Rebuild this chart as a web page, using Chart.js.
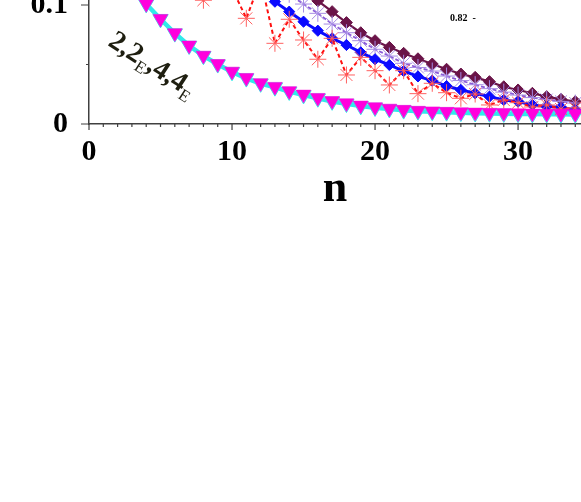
<!DOCTYPE html>
<html>
<head>
<meta charset="utf-8">
<script src="https://cdn.jsdelivr.net/npm/chart.js@4.4.0/dist/chart.umd.min.js"></script>
<style>
html, body { margin: 0; padding: 0; background: #fff; }
#wrap { width: 581px; height: 502px; position: relative; }
</style>
</head>
<body>
<div id="wrap"><canvas id="decayChart"></canvas></div>
<script>
const nValues = [1, 2, 3, 4, 5, 6, 7, 8, 9, 10, 11, 12, 13, 14, 15, 16, 17,
    18, 19, 20, 21, 22, 23, 24, 25, 26, 27, 28, 29, 30, 31, 32, 33, 34];

// 2,2E (cyan line) and 4,4E (magenta triangles)
const series22E = [0.150, 0.131, 0.115, 0.1008, 0.0882, 0.0762, 0.0658, 0.0572, 0.0502, 0.0437,
    0.0384, 0.0340, 0.0308, 0.0272, 0.0243, 0.0215, 0.0189, 0.0170, 0.0151, 0.0137,
    0.0125, 0.0115, 0.0107, 0.0102, 0.0098, 0.0094, 0.0091, 0.0089, 0.0087, 0.0085,
    0.0083, 0.0082, 0.0081, 0.0080];
const series44E = [0.150, 0.131, 0.115, 0.101, 0.0885, 0.0765, 0.0661, 0.0576, 0.0506, 0.0442,
    0.0389, 0.0345, 0.0314, 0.0278, 0.0249, 0.0221, 0.0195, 0.0176, 0.0157, 0.0143,
    0.0131, 0.0121, 0.0113, 0.0108, 0.0104, 0.0101, 0.0098, 0.0096, 0.0094, 0.0092,
    0.0090, 0.0089, 0.0088, 0.0087];
const seriesRed = [0.200, 0.170, 0.190, 0.150, 0.160, 0.125, 0.140, 0.104, 0.125, 0.114,
    0.0888, 0.121, 0.0678, 0.088, 0.0706, 0.0544, 0.072, 0.0412, 0.056, 0.0448,
    0.0328, 0.0448, 0.0255, 0.0342, 0.0263, 0.0216, 0.0252, 0.016, 0.0202, 0.0179,
    0.0143, 0.016, 0.0126, 0.0135];
const seriesBlue = [0.30, 0.27, 0.245, 0.222, 0.202, 0.184, 0.168, 0.154, 0.142, 0.131,
    0.121, 0.111, 0.1028, 0.0944, 0.086, 0.0784, 0.072, 0.0664, 0.0602, 0.0544,
    0.0496, 0.0445, 0.040, 0.0364, 0.0319, 0.0286, 0.0258, 0.023, 0.0202, 0.0188,
    0.016, 0.0146, 0.014, 0.0118];
const seriesPurple = [0.34, 0.31, 0.28, 0.255, 0.232, 0.212, 0.194, 0.178, 0.163, 0.150,
    0.138, 0.127, 0.118, 0.109, 0.1008, 0.093, 0.084, 0.0767, 0.070, 0.0628,
    0.0571, 0.051, 0.0475, 0.0445, 0.0403, 0.0365, 0.033, 0.0297, 0.0268, 0.0243,
    0.0222, 0.0205, 0.019, 0.0176];
const seriesMaroon = [0.38, 0.345, 0.315, 0.288, 0.263, 0.241, 0.221, 0.203, 0.187, 0.172,
    0.158, 0.145, 0.134, 0.123, 0.113, 0.1035, 0.0944, 0.0852, 0.0767, 0.070,
    0.0644, 0.0594, 0.0548, 0.0504, 0.046, 0.042, 0.0392, 0.0356, 0.0313, 0.0286,
    0.0258, 0.023, 0.0207, 0.0188];

const xTickLabels = ['0', '10', '20', '30'];
const yTickLabels = ['0', '0.1'];

const serif = "'Liberation Serif', 'Times New Roman', serif";
const axisColor = '#404040';

// minor / major tick marks plus the two text notes
const axisMarks = {
    id: 'axisMarks',
    afterDraw(chart) {
        const { ctx, chartArea, scales: { x, y } } = chart;
        ctx.save();
        ctx.strokeStyle = axisColor;
        ctx.lineWidth = 1.2;
        ctx.beginPath();
        x.ticks.forEach(t => {
            const px = x.getPixelForValue(t.value);
            const len = t.value % 10 === 0 ? 6 : 3;
            ctx.moveTo(px, chartArea.bottom);
            ctx.lineTo(px, chartArea.bottom + len);
        });
        y.ticks.forEach(t => {
            const py = y.getPixelForValue(t.value);
            const len = Math.abs(t.value - 0.05) < 1e-9 ? 3 : 8;
            ctx.moveTo(chartArea.left - len, py);
            ctx.lineTo(chartArea.left, py);
        });
        ctx.stroke();

        // small note top right
        ctx.fillStyle = '#000';
        ctx.font = 'bold 10px ' + serif;
        ctx.textBaseline = 'alphabetic';
        ctx.fillText('0.82  -', x.getPixelForValue(25.24), y.getPixelForValue(0.0868));

        // rotated curve label with subscripts
        const parts = [['2', 0], [',', 0], ['2', 0], ['E', 1], [',', 0], ['4', 0], [',', 0], ['4', 0], ['E', 1]];
        ctx.translate(x.getPixelForValue(1.25), y.getPixelForValue(0.0665));
        ctx.rotate(33 * Math.PI / 180);
        ctx.fillStyle = '#1e1e10';
        let cx = 0;
        parts.forEach(([txt, sub]) => {
            ctx.font = sub ? '17px ' + serif : 'bold 28px ' + serif;
            ctx.fillText(txt, cx, sub ? 6 : 0);
            cx += ctx.measureText(txt).width;
        });
        ctx.restore();
    }
};

const ctx = document.getElementById('decayChart').getContext('2d');
new Chart(ctx, {
    type: 'line',
    data: {
        labels: nValues,
        datasets: [
            {
                label: '4,4E',
                data: series44E,
                showLine: false,
                pointStyle: 'triangle',
                rotation: 180,
                pointRadius: 8.5,
                pointBackgroundColor: '#ff00dd',
                pointBorderColor: '#ff00dd',
                pointBorderWidth: 0.5
            },
            {
                label: 'red',
                data: seriesRed,
                borderColor: '#ff1010',
                borderWidth: 2,
                borderDash: [4, 3],
                pointStyle: 'star',
                pointRadius: 8.5,
                pointBorderColor: '#ff6060',
                pointBorderWidth: 1
            },
            {
                label: 'blue',
                data: seriesBlue,
                borderColor: '#0a0aff',
                borderWidth: 3,
                pointStyle: 'rectRot',
                pointRadius: 5.6,
                pointBackgroundColor: '#0a0aff',
                pointBorderColor: '#0a0aff',
                pointBorderWidth: 1
            },
            {
                label: 'purple',
                data: seriesPurple,
                borderColor: '#8a5ad8',
                borderWidth: 1.8,
                borderDash: [4, 2],
                pointStyle: 'star',
                pointRadius: 8.5,
                pointBorderColor: '#a58ae4',
                pointBorderWidth: 1
            },
            {
                label: 'maroon',
                data: seriesMaroon,
                borderColor: '#6a1448',
                borderWidth: 2.2,
                pointStyle: 'rectRot',
                pointRadius: 6,
                pointBackgroundColor: '#6a1448',
                pointBorderColor: '#6a1448',
                pointBorderWidth: 1
            },
            {
                label: '2,2E',
                data: series22E,
                borderColor: '#30eaea',
                borderWidth: 4.5,
                pointStyle: 'triangle',
                rotation: 180,
                pointRadius: 8.8,
                pointBackgroundColor: '#8af4f4',
                pointBorderColor: '#30eaea',
                pointBorderWidth: 1
            }
        ]
    },
    options: {
        responsive: true,
        maintainAspectRatio: false,
        animation: false,
        layout: { autoPadding: false, padding: { left: 0, top: 0, right: 0, bottom: 290 } },
        elements: { line: { tension: 0 } },
        plugins: {
            legend: { display: false },
            tooltip: { enabled: false }
        },
        scales: {
            x: {
                type: 'linear',
                min: 0,
                max: 34.4,
                afterBuildTicks: s => { s.ticks = nValues.slice(0, 34).map(v => ({ value: v })); s.ticks.unshift({ value: 0 }); },
                afterFit: s => { s.height = 88; s.paddingLeft = 0; s.paddingRight = 0; },
                grid: { display: false, drawTicks: false },
                border: { display: true, color: axisColor, width: 1.5 },
                ticks: {
                    autoSkip: false,
                    maxRotation: 0,
                    padding: 10,
                    color: '#000',
                    font: { family: serif, size: 30, weight: 'bold' },
                    callback: v => xTickLabels.includes(String(v)) ? String(v) : ''
                },
                title: {
                    display: true,
                    text: 'n',
                    color: '#000',
                    padding: 0,
                    font: { family: serif, size: 44, weight: 'bold', lineHeight: 1 }
                }
            },
            y: {
                min: 0,
                max: 0.1042,
                afterBuildTicks: s => { s.ticks = [{ value: 0 }, { value: 0.05 }, { value: 0.1 }]; },
                afterFit: s => { s.width = 89; s.paddingTop = 0; s.paddingBottom = 0; },
                grid: { display: false, drawTicks: false },
                border: { display: true, color: axisColor, width: 1.5 },
                ticks: {
                    padding: 21,
                    color: '#000',
                    font: { family: serif, size: 30, weight: 'bold' },
                    callback: v => v === 0 ? yTickLabels[0] : (Math.abs(v - 0.1) < 1e-9 ? yTickLabels[1] : '')
                }
            }
        }
    },
    plugins: [axisMarks]
});
</script>
</body>
</html>
